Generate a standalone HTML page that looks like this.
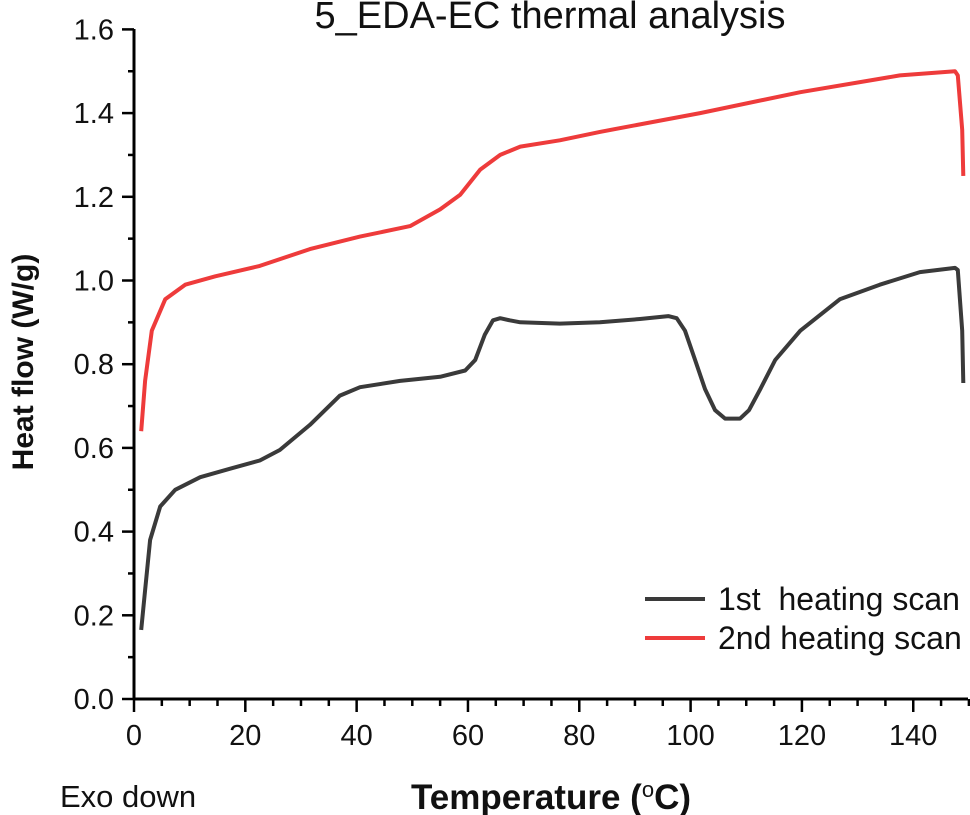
<!DOCTYPE html>
<html><head><meta charset="utf-8"><style>
body{margin:0;background:#fff;}
svg{display:block;font-family:"Liberation Sans",Arial,sans-serif;}
</style></head><body>
<svg id="chart" width="970" height="815">
<text x="550" y="28" text-anchor="middle" font-size="38" fill="#111">5_EDA-EC thermal analysis</text>
<text transform="translate(33,362) rotate(-90)" text-anchor="middle" font-size="30" font-weight="bold" fill="#111">Heat flow (W/g)</text>
<text x="551" y="809" text-anchor="middle" font-size="35" font-weight="bold" fill="#111">Temperature (<tspan font-weight="normal" font-size="22" dy="-12">o</tspan><tspan dy="12">C)</tspan></text>
<text x="60" y="807" font-size="31" fill="#111">Exo down</text>
<g id="axes"></g>
<g id="series"></g>
<g>
<line x1="645" y1="599" x2="705" y2="599" stroke="#3a3a3a" stroke-width="4"/>
<text x="718" y="610" font-size="32" fill="#111">1st&#160; heating scan</text>
<line x1="645" y1="638" x2="705" y2="638" stroke="#ee3b3b" stroke-width="4"/>
<text x="718" y="649" font-size="32" fill="#111">2nd heating scan</text>
</g>
</svg>
<script>
const xTicks=[0,20,40,60,80,100,120,140];
const yTicks=[0.0,0.2,0.4,0.6,0.8,1.0,1.2,1.4,1.6];
const scan1T=[1.3,2,2.9,4.7,7.4,11.9,17.2,22.6,26.2,31.6,37,40.6,47.8,55,59.5,61.3,63,64.5,65.8,67.5,69.4,76.5,83.7,90.9,96,97.5,99,100.8,102.6,104.4,106.2,108.9,110.5,112.5,115.2,119.7,126.8,134,141.2,147.5,148,148.8,149];
const scan1V=[0.165,0.26,0.38,0.46,0.50,0.53,0.55,0.57,0.595,0.655,0.725,0.745,0.76,0.77,0.785,0.81,0.87,0.905,0.91,0.905,0.90,0.897,0.90,0.908,0.915,0.91,0.88,0.81,0.74,0.69,0.67,0.67,0.69,0.74,0.81,0.88,0.955,0.99,1.02,1.03,1.025,0.88,0.755];
const scan2T=[1.3,2,3.2,5.6,9.2,14.6,22.6,31.6,40.6,49.6,55,58.6,62.2,65.8,69.4,76.5,83.7,101.7,119.7,137.6,147.5,148,148.8,149];
const scan2V=[0.64,0.76,0.88,0.955,0.99,1.01,1.035,1.075,1.105,1.13,1.17,1.205,1.265,1.30,1.32,1.335,1.355,1.40,1.45,1.49,1.50,1.49,1.36,1.25];
const NS='http://www.w3.org/2000/svg';
const sx=t=>134+t*5.566, sy=v=>699-v*418.5;
const ax=document.getElementById('axes'), se=document.getElementById('series');
function mk(tag,attrs,parent){const e=document.createElementNS(NS,tag);for(const k in attrs)e.setAttribute(k,attrs[k]);parent.appendChild(e);return e;}
let l=mk('line',{x1:134,y1:29,x2:134,y2:700,stroke:'#000','stroke-width':3},ax);


l=mk('line',{x1:133,y1:699,x2:968,y2:699,stroke:'#000','stroke-width':3},ax);


yTicks.forEach((v,i)=>{const y=sy(v);
 const t=mk('line',{x1:122,y1:y,x2:134,y2:y,stroke:'#000','stroke-width':2.5},ax);
 
 
 if(i<yTicks.length-1){const m=mk('line',{x1:128,y1:sy(v+0.1),x2:134,y2:sy(v+0.1),stroke:'#000','stroke-width':2.5},ax);
 
 }
 const tx=mk('text',{x:114,y:y+10,'text-anchor':'end','font-size':29,fill:'#111'},ax);tx.textContent=v.toFixed(1);
 
 
});
for(let t=0;t<=150;t+=5){const x=sx(t);const major=t%20===0&&t<=140;
 const k=mk('line',{x1:x,y1:699,x2:x,y2:major?712:706,stroke:'#000','stroke-width':2.5},ax);
 
 }
xTicks.forEach(t=>{const tx=mk('text',{x:sx(t),y:745,'text-anchor':'middle','font-size':29,fill:'#111'},ax);tx.textContent=t;
 
 });
function path(T,V,color,name){
 const d=T.map((t,i)=>(i?'L':'M')+sx(t).toFixed(1)+','+sy(V[i]).toFixed(1)).join('');
 const p=mk('path',{d:d,fill:'none',stroke:color,'stroke-width':4,'stroke-linejoin':'round'},se);
 
 
}
path(scan1T,scan1V,'#3a3a3a','series-1st-heating-scan');
path(scan2T,scan2V,'#ee3b3b','series-2nd-heating-scan');
</script>
</body></html>
